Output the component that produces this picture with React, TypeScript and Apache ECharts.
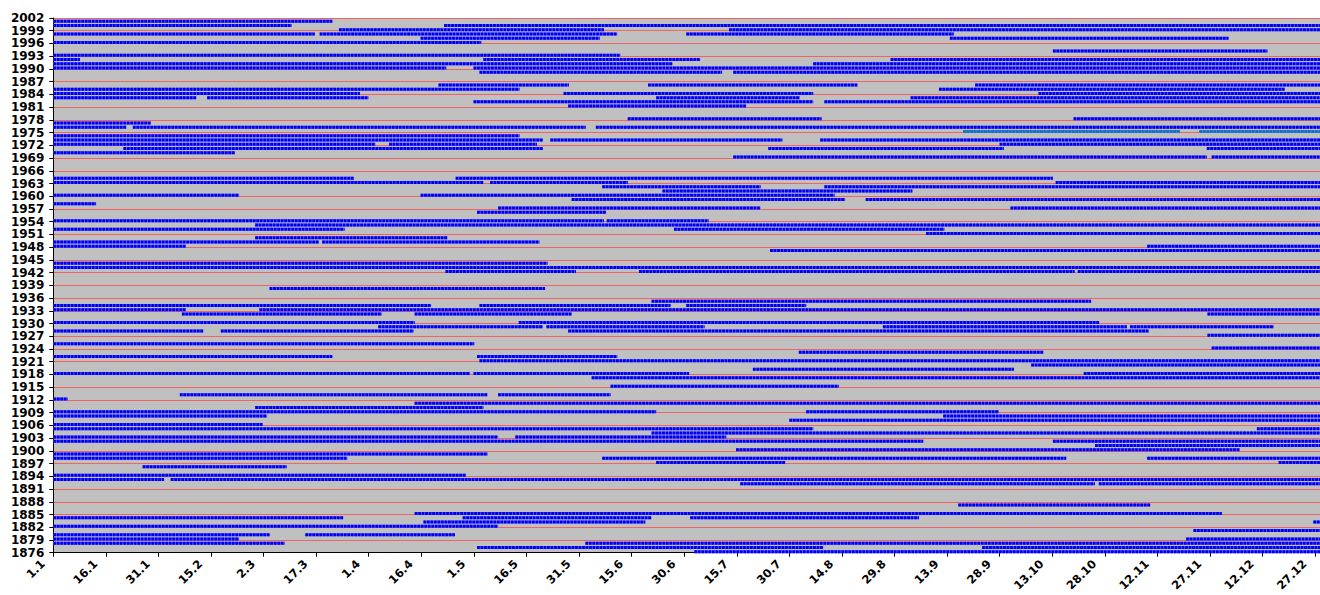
import React, { useEffect, useRef } from 'react';
import * as echarts from 'echarts';

const BASE_YEAR = 1876;
const LAST_YEAR = 2002;
const LAST_DAY = 364; // day index, 0 = 1 Jan

const xTickLabels = ['1.1', '16.1', '31.1', '15.2', '2.3', '17.3', '1.4', '16.4', '1.5', '16.5', '31.5', '15.6', '30.6', '15.7', '30.7', '14.8', '29.8', '13.9', '28.9', '13.10', '28.10', '12.11', '27.11', '12.12', '27.12'];

// [year, start day index, end day index]
const blueSegments: [number, number, number][] = [
  [2001, 0, 79.6],
  [2000, 0, 68], [2000, 111.5, 364],
  [1999, 81.5, 157.1], [1999, 192.8, 364],
  [1998, 0, 74.6], [1998, 76, 160.9], [1998, 180.6, 256.9],
  [1997, 104.8, 155.9], [1997, 255.8, 335.3],
  [1996, 0, 122.1],
  [1994, 285.2, 346.4],
  [1993, 0, 161.8],
  [1992, 0, 7.6], [1992, 122.7, 184.6], [1992, 238.9, 364],
  [1991, 0, 176.7], [1991, 216.8, 364],
  [1990, 0, 112.1], [1990, 119.9, 364],
  [1989, 121.6, 190.8], [1989, 194, 364],
  [1986, 109.9, 147.1], [1986, 169.7, 229.4], [1986, 263, 364],
  [1985, 0, 133], [1985, 252.7, 351.3],
  [1984, 0, 87.5], [1984, 145.6, 216.8], [1984, 281.1, 364],
  [1983, 0, 40.8], [1983, 43.9, 89.9], [1983, 172, 213], [1983, 244.6, 364],
  [1982, 119.9, 216.8], [1982, 220, 364],
  [1981, 146.9, 197.7],
  [1978, 163.9, 219.2], [1978, 291.1, 364],
  [1977, 0, 27.8],
  [1976, 0, 20.8], [1976, 22.7, 151.9], [1976, 154.8, 364],
  [1974, 0, 133],
  [1973, 0, 139.7], [1973, 141.8, 208], [1973, 218.8, 364],
  [1972, 0, 91.9], [1972, 95.8, 138], [1972, 270, 364],
  [1971, 20, 139.7], [1971, 204, 271.2], [1971, 329.1, 364],
  [1970, 0, 51.8],
  [1969, 194, 329.1], [1969, 330.5, 364],
  [1964, 0, 85.8], [1964, 114.8, 285.2],
  [1963, 0, 122.7], [1963, 124.6, 163.9], [1963, 286, 364],
  [1962, 156.6, 201.8], [1962, 220, 364],
  [1961, 173.8, 245.1],
  [1960, 0, 53], [1960, 104.8, 222.9],
  [1959, 147.9, 225.9], [1959, 231.8, 364],
  [1958, 0, 12.2],
  [1957, 126.9, 201.8], [1957, 273.1, 364],
  [1956, 120.9, 157.7],
  [1954, 0, 157.1], [1954, 157.9, 187],
  [1953, 57.6, 364],
  [1952, 0, 83.1], [1952, 177.1, 254.2],
  [1951, 249, 364],
  [1950, 57.6, 112.5],
  [1949, 0, 75.8], [1949, 76.7, 138.7],
  [1948, 0, 37.8], [1948, 312.1, 364],
  [1947, 204.5, 364],
  [1944, 0, 141],
  [1943, 0, 364],
  [1942, 111.9, 149.1], [1942, 167.1, 291.4], [1942, 292.3, 364],
  [1938, 61.7, 140.3],
  [1935, 170.7, 296.1],
  [1934, 0, 107.8], [1934, 121.6, 176.1], [1934, 180.6, 214.8],
  [1933, 0, 37.8], [1933, 58.8, 364],
  [1932, 36.7, 93.7], [1932, 103.1, 147.9], [1932, 329.3, 364],
  [1930, 0, 103.1], [1930, 132.8, 298.4],
  [1929, 92.7, 139.7], [1929, 140.7, 185.8], [1929, 236.7, 306.3], [1929, 307.2, 348.2], [1929, 361.5, 364],
  [1928, 0, 42.8], [1928, 47.8, 102.8], [1928, 146.9, 312.5],
  [1927, 329.3, 364],
  [1925, 0, 120.1],
  [1924, 330.5, 364],
  [1923, 212.7, 282.5],
  [1922, 0, 79.6], [1922, 120.9, 160.9],
  [1921, 121.6, 364],
  [1920, 279, 364],
  [1919, 199.6, 274.1],
  [1918, 0, 118.9], [1918, 119.9, 181.4], [1918, 294, 364],
  [1917, 153.6, 364],
  [1915, 159, 224.1],
  [1913, 36.1, 123.9], [1913, 126.9, 159],
  [1912, 0, 4.1],
  [1911, 103.1, 364],
  [1910, 57.6, 122.7],
  [1909, 0, 172], [1909, 214.8, 269.8],
  [1908, 0, 61], [1908, 253.9, 364],
  [1907, 210, 364],
  [1906, 0, 59.7],
  [1905, 0, 216.8], [1905, 343.4, 364],
  [1904, 170.7, 364],
  [1903, 0, 126.9], [1903, 131.8, 192],
  [1902, 0, 248.2], [1902, 285.2, 364],
  [1901, 297.2, 364],
  [1900, 194.8, 338.5],
  [1899, 0, 123.9],
  [1898, 0, 83.9], [1898, 156.6, 289], [1898, 312.1, 364],
  [1897, 172, 208.9], [1897, 349.6, 364],
  [1896, 25.5, 66.6],
  [1894, 0, 117.7],
  [1893, 0, 31.6], [1893, 33.5, 364],
  [1892, 196, 297.2], [1892, 298.3, 364],
  [1887, 258.2, 313],
  [1885, 103.1, 333.4],
  [1884, 0, 82.7], [1884, 116.8, 170.7], [1884, 181.7, 247],
  [1883, 105.6, 168.9], [1883, 359.5, 364],
  [1882, 0, 126.9],
  [1881, 325.3, 364],
  [1880, 0, 61.7], [1880, 71.9, 114.6],
  [1879, 0, 53], [1879, 323.2, 364],
  [1878, 0, 66], [1878, 151.8, 364],
  [1877, 120.9, 219.7], [1877, 265, 364],
  [1876, 182.9, 364],
];

const tealSegments: [number, number, number][] = [
  [1975, 259.6, 321.5], [1975, 327, 364],
];

const FONT = '"DejaVu Sans", Verdana, sans-serif';

export default function App() {
  const ref = useRef<HTMLDivElement>(null);

  useEffect(() => {
    if (!ref.current) return;
    const chart = echarts.init(ref.current, null, { renderer: 'svg' });

    const toData = (segs: [number, number, number][]) =>
      segs.map(([y, s, e]) => [y - BASE_YEAR, s, e]);

    const makeRender = (base: string, dash: string) => (params: any, api: any) => {
      const yv = api.value(0);
      const s = api.value(1);
      const e = api.value(2);
      const a = api.coord([s, yv]);
      const b = api.coord([e, yv]);
      const cy = a[1] - 1;
      const w = Math.max(b[0] - a[0], 2);
      return {
        type: 'group',
        children: [
          {
            type: 'rect',
            shape: { x: a[0], y: cy - 1.5, width: w, height: 3 },
            style: { fill: base },
          },
          {
            type: 'line',
            shape: { x1: a[0], y1: cy, x2: a[0] + w, y2: cy },
            style: { stroke: dash, lineWidth: 3, lineDash: [2.8, 0.7] },
          },
        ],
      };
    };

    chart.setOption({
      animation: false,
      grid: {
        left: 53.3,
        top: 18,
        right: 15.9,
        bottom: 42.3,
        containLabel: false,
        outerBoundsMode: 'none',
        show: true,
        backgroundColor: '#c0c0c0',
        borderWidth: 0,
      },
      xAxis: {
        type: 'value',
        min: 0,
        max: LAST_DAY,
        interval: 15,
        axisLine: { show: true, lineStyle: { color: '#000', width: 1 } },
        axisTick: { show: true, length: 4, lineStyle: { color: '#000' } },
        splitLine: { show: false },
        axisLabel: {
          rotate: 45,
          margin: 7,
          verticalAlign: 'bottom',
          padding: [0, 9, 0, 0],
          color: '#000',
          fontWeight: 'bold',
          fontSize: 11.5,
          fontFamily: FONT,
          hideOverlap: false,
          formatter: (v: number) => (v % 15 === 0 ? xTickLabels[v / 15] ?? '' : ''),
        },
      },
      yAxis: {
        type: 'value',
        min: 0,
        max: LAST_YEAR - BASE_YEAR,
        interval: 3,
        axisLine: { show: true, lineStyle: { color: '#000', width: 1 } },
        axisTick: { show: true, length: 4, lineStyle: { color: '#000' } },
        splitLine: { show: true, lineStyle: { color: '#f06464', width: 1 } },
        axisLabel: {
          margin: 9,
          color: '#000',
          fontWeight: 'bold',
          fontSize: 12,
          lineHeight: 12,
          fontFamily: FONT,
          showMinLabel: true,
          showMaxLabel: true,
          hideOverlap: false,
          formatter: (v: number) => String(v + BASE_YEAR),
        },
      },
      series: [
        {
          type: 'custom',
          name: 'blue',
          renderItem: makeRender('#6a6aff', '#0000f0'),
          encode: { x: [1, 2], y: 0 },
          data: toData(blueSegments),
          z: 3,
        },
        {
          type: 'custom',
          name: 'teal',
          renderItem: makeRender('#4a8ad6', '#1570c8'),
          encode: { x: [1, 2], y: 0 },
          data: toData(tealSegments),
          z: 3,
        },
      ],
    });

    return () => chart.dispose();
  }, []);

  return (
    <div
      style={{
        position: 'fixed',
        left: 0,
        top: 0,
        width: 1320,
        height: 595,
        overflow: 'hidden',
        background: '#fff',
      }}
    >
      <div ref={ref} style={{ width: 1345, height: 595 }} />
    </div>
  );
}
